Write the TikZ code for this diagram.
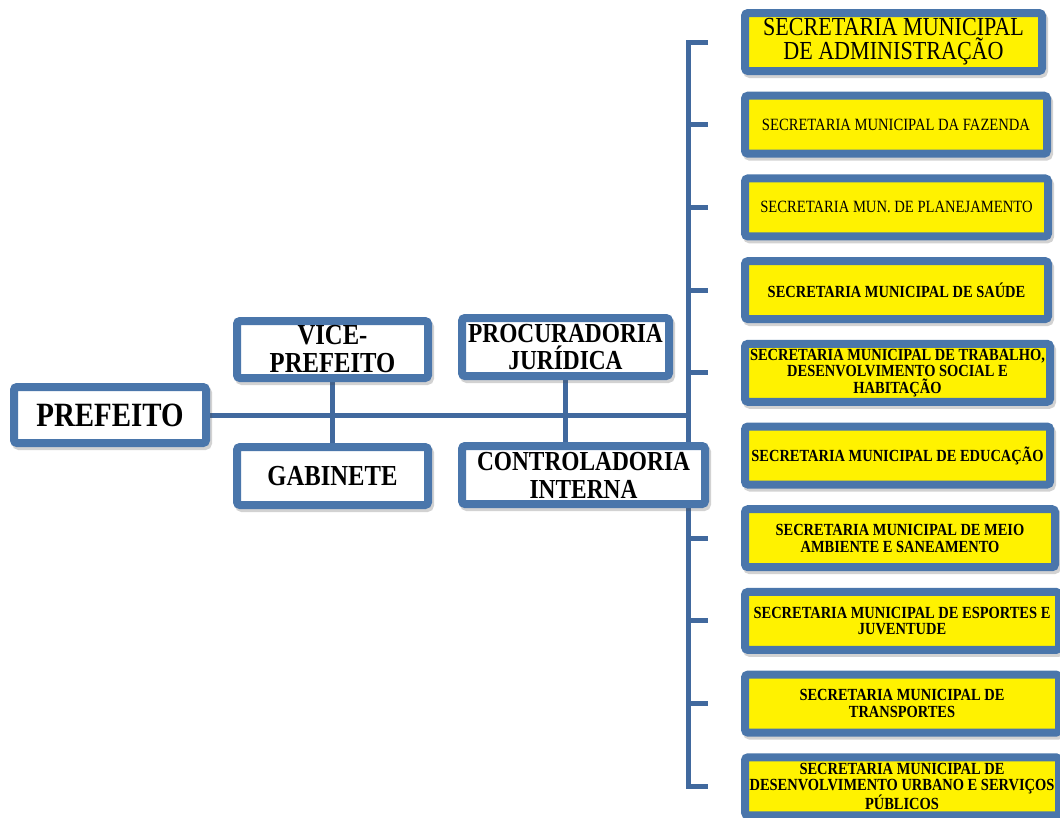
\documentclass[tikz,border=0pt]{standalone}
\usepackage{fontspec}
\setmainfont{Liberation Serif}[FakeStretch=0.85]
\usetikzlibrary{calc,shadows,backgrounds}
\definecolor{boxblue}{RGB}{74,118,171}
\definecolor{linkblue}{RGB}{65,105,158}

\begin{document}
\begin{tikzpicture}[x=1pt, y=-1pt,
    orgbox/.style={draw=boxblue, line width=8pt, rounded corners=3pt, fill=white,
        inner sep=0pt, align=center,
        drop shadow={shadow xshift=2pt, shadow yshift=-3pt, opacity=.25,
            fill=black!70, draw=black!70, line width=8pt}},
    secbox/.style={orgbox, fill=yellow, anchor=west, minimum height=58pt},
    bus/.style={draw=linkblue, line width=5pt, line join=miter},
    headfont/.style={font=\fontsize{29}{28}\selectfont\bfseries},
    bigsec/.style={font=\fontsize{26}{24.3}\selectfont},
    smallsec/.style={font=\fontsize{17.2}{17}\selectfont},
    boldsec/.style={font=\fontsize{17}{16.5}\selectfont\bfseries}]
    \useasboundingbox (0,0) rectangle (1060,817);
    \coordinate (sp) at (688,0);

    \node[orgbox, minimum width=192pt, minimum height=56pt,
        font=\fontsize{34}{34}\selectfont\bfseries] (pref) at (110,415) {PREFEITO};
    \node[orgbox, headfont, minimum width=191pt, minimum height=57pt] (vice) at (332.5,349.5) {VICE-\\PREFEITO};
    \node[orgbox, headfont, minimum width=191pt, minimum height=58pt] (gab) at (332.5,476) {GABINETE};
    \node[orgbox, minimum width=207pt, minimum height=58pt,
        font=\fontsize{27.5}{27}\selectfont\bfseries] (proc) at (565.5,347) {PROCURADORIA\\JURÍDICA};
    \node[orgbox, minimum width=243pt, minimum height=58pt,
        font=\fontsize{27.5}{28}\selectfont\bfseries] (ctrl) at (583.5,475) {CONTROLADORIA\\INTERNA};

    \node[secbox, bigsec, minimum width=297pt] (s1) at (741,42) {SECRETARIA MUNICIPAL\\DE ADMINISTRAÇÃO};
    \node[secbox, smallsec, minimum width=302pt] (s2) at (741,124.7) {SECRETARIA MUNICIPAL DA FAZENDA};
    \node[secbox, smallsec, minimum width=303pt] (s3) at (741,207.4) {SECRETARIA MUN. DE PLANEJAMENTO};
    \node[secbox, boldsec, minimum width=303pt] (s4) at (741,290.1) {SECRETARIA MUNICIPAL DE SAÚDE};
    \node[secbox, boldsec, minimum width=305pt] (s5) at (741,372.8) {SECRETARIA MUNICIPAL DE TRABALHO,\\DESENVOLVIMENTO SOCIAL E\\HABITAÇÃO};
    \node[secbox, boldsec, minimum width=305pt] (s6) at (741,455.5) {SECRETARIA MUNICIPAL DE EDUCAÇÃO};
    \node[secbox, boldsec, minimum width=310pt] (s7) at (741,538.2) {SECRETARIA MUNICIPAL DE MEIO\\AMBIENTE E SANEAMENTO};
    \node[secbox, boldsec, minimum width=314pt] (s8) at (741,620.9) {SECRETARIA MUNICIPAL DE ESPORTES E\\JUVENTUDE};
    \node[secbox, boldsec, minimum width=314pt] (s9) at (741,703.6) {SECRETARIA MUNICIPAL DE\\TRANSPORTES};
    \node[secbox, boldsec, minimum width=314pt] (s10) at (741,786.3) {SECRETARIA MUNICIPAL DE\\DESENVOLVIMENTO URBANO E SERVIÇOS\\PÚBLICOS};

    % ligacoes atras das caixas
    \coordinate (t1) at ($(s1.west)+(-33,0)$);
    \coordinate (t10) at ($(s10.west)+(-33,0)$);
    \begin{scope}[on background layer]
        \draw[bus] (pref) -- (pref -| sp);
        \draw[bus] (vice) -- (gab);
        \draw[bus] (proc) -- (proc |- ctrl);
        \draw[bus] (t1) -| (sp |- t10) -- (t10);
        \foreach \i in {2,...,9}
            \draw[bus] (sp |- s\i.west) -- ++(20,0);
    \end{scope}
\end{tikzpicture}
\end{document}
